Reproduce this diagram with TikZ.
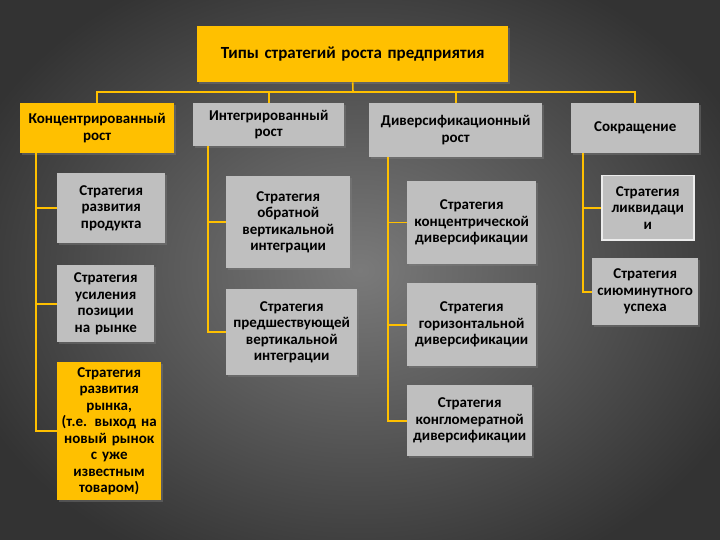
\documentclass[tikz,border=0pt]{standalone}
\usepackage{fontspec}
\setmainfont{Carlito}
\usetikzlibrary{shadows}
\definecolor{yel}{HTML}{FFC000}
\definecolor{gr}{HTML}{BFBFBF}
\definecolor{bgin}{HTML}{7A7A7A}
\definecolor{bgout}{HTML}{333333}
\tikzset{
  bx/.style={draw=none,fill=gr,font=\bfseries\fontsize{15}{16.5}\selectfont,align=center,inner sep=0pt,anchor=north west,drop shadow={opacity=0.4,shadow xshift=1.5pt,shadow yshift=-1.5pt}},
  yb/.style={bx,fill=yel},
  ln/.style={draw=yel,line width=1.6pt}
}
\newcommand{\bxn}[7]{\node[#1,minimum width=#4pt-#2pt,minimum height=#5pt-#3pt,text width=#4pt-#2pt] (#6) at (#2,#3) {#7};}
\begin{document}
\begin{tikzpicture}[x=1pt,y=-1pt]
\useasboundingbox (0,0) rectangle (720,540);
\begin{scope}
\clip (0,0) rectangle (720,540);
\shade[inner color=bgin,outer color=bgout] (-60,-60) rectangle (780,600);
\end{scope}
% title
\bxn{yb,font=\bfseries\fontsize{17}{19}\selectfont}{197}{26}{508}{82}{t}{Типы стратегий роста предприятия}
% level 1
\bxn{yb}{20}{103}{174}{153}{a}{Концентрированный\\рост}
\bxn{bx}{193}{103}{344}{146}{b}{Интегрированный\\рост}
\bxn{bx}{369}{103}{542}{157}{c}{Диверсификационный\\рост}
\bxn{bx}{571}{103}{699}{153}{d}{Сокращение}
% children
\bxn{bx}{57}{173}{165}{243}{a1}{Стратегия\\развития\\продукта}
\bxn{bx}{57}{265}{154}{342}{a2}{Стратегия\\усиления\\позиции\\на рынке}
\bxn{yb}{57}{362}{161}{500}{a3}{Стратегия\\развития\\рынка,\\(т.е. выход на\\новый рынок\\с уже\\известным\\товаром)}
\bxn{bx}{226}{176}{350}{268}{b1}{Стратегия\\обратной\\вертикальной\\интеграции}
\bxn{bx}{226}{289}{357}{375}{b2}{Стратегия\\предшествующей\\вертикальной\\интеграции}
\bxn{bx}{407}{181}{536}{264}{c1}{Стратегия\\концентрической\\диверсификации}
\bxn{bx}{407}{283}{536}{366}{c2}{Стратегия\\горизонтальной\\диверсификации}
\bxn{bx}{407}{385}{532}{456}{c3}{Стратегия\\конгломератной\\диверсификации}
\node[bx,draw=white!85!gray,line width=1.5pt,minimum width=92pt,minimum height=64pt,text width=92pt] (d1) at (601,175) {Стратегия\\ликвидаци\\и};
\bxn{bx}{592}{258}{698}{325}{d2}{Стратегия\\сиюминутного\\успеха}
% connectors
\coordinate (bus) at (353,92);
\draw[ln] (t.south) -- (bus);
\draw[ln] (a.north) |- (bus) -| (d.north);
\draw[ln] (b.north) |- (bus) -| (c.north);
\draw[ln] (a.south west) ++(16,0) coordinate (at) -- (at |- a3.west) -- (a3.west);
\draw[ln] (at |- a1.west) -- (a1.west);
\draw[ln] (at |- a2.west) -- (a2.west);
\draw[ln] (b.south west) ++(15,0) coordinate (bt) -- (bt |- b2.west) -- (b2.west);
\draw[ln] (bt |- b1.west) -- (b1.west);
\draw[ln] (c.south west) ++(19,0) coordinate (ct) -- (ct |- c3.west) -- (c3.west);
\draw[ln] (ct |- c1.west) -- (c1.west);
\draw[ln] (ct |- c2.west) -- (c2.west);
\draw[ln] (d.south west) ++(12,0) coordinate (dt) -- (dt |- d2.west) -- (d2.west);
\draw[ln] (dt |- d1.west) -- (d1.west);
\end{tikzpicture}
\end{document}
